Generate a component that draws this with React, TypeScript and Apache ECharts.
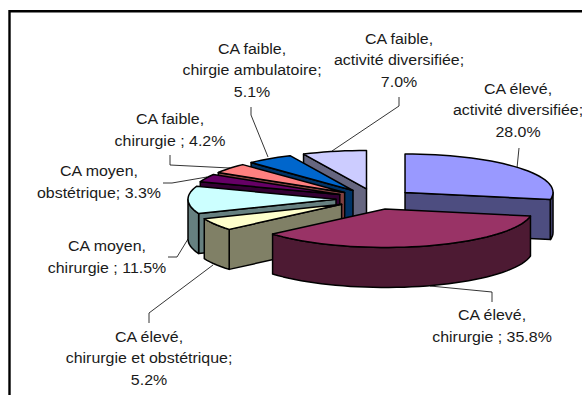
import React, { useEffect, useRef } from "react";
import * as echarts from "echarts";

const categories = [
  "CA élevé,\nactivité diversifiée;",
  "CA élevé,\nchirurgie ;",
  "CA élevé,\nchirurgie et obstétrique;",
  "CA moyen,\nchirurgie ;",
  "CA moyen,\nobstétrique;",
  "CA faible,\nchirurgie ;",
  "CA faible,\nchirgie ambulatoire;",
  "CA faible,\nactivité diversifiée;",
];
const shares = [28.0, 35.8, 5.2, 11.5, 3.3, 4.2, 5.1, 7.0];
const valueOnOwnLine = [true, false, true, false, false, false, true, true];
const topColors = ["#9999FF", "#993366", "#FFFFCC", "#CCFFFF", "#660066", "#FF8080", "#0066CC", "#CCCCFF"];
const sideColors = ["#4D4D80", "#4D1A33", "#808066", "#668080", "#330033", "#804040", "#003366", "#666680"];

// Layout of the drawing (not data)
const CX = 375, CY = 199, RX = 148, RY = 38.5, DEPTH = 40, EX = 39, EY = 10.3;
const labelCentres = [[518, 110], [492, 326], [149, 358], [107, 257], [99, 182], [170, 130], [252, 70], [399, 60]];
const leaders = [
  [[519, 148], [517, 168]],
  [[492, 302], [492, 292], [430, 286]],
  [[149, 323], [149, 313], [213, 265]],
  [[168, 257], [177, 257], [188, 239]],
  [[163, 183], [172, 183], [207, 177]],
  [[170, 155], [170, 165], [230, 168]],
  [[251, 107], [251, 115], [268, 157]],
  [[399, 97], [399, 106], [332, 151]],
];

const total = shares.reduce((a, b) => a + b, 0);
const rad = (d: number) => (d * Math.PI) / 180;

type Row = [number, number, number];
const rows: Row[] = [];
{
  let acc = 0;
  shares.forEach((v, i) => {
    rows.push([v, (acc / total) * 360, i]);
    acc += v;
  });
}
const apexOf = (mid: number) => [CX + EX * Math.sin(rad(mid)), CY - EY * Math.cos(rad(mid))];
// painter's order: furthest apex first
const drawRows = [...rows].sort((a, b) => {
  const ma = a[1] + (a[0] / total) * 180;
  const mb = b[1] + (b[0] / total) * 180;
  return apexOf(ma)[1] - apexOf(mb)[1];
});

function renderSlice(_: any, api: any) {
  const v = api.value(0), a1 = api.value(1), idx = api.value(2);
  const a2 = a1 + (v / total) * 360;
  const [ax, ay] = apexOf((a1 + a2) / 2);
  const pt = (a: number, dy = 0) => [ax + RX * Math.sin(rad(a)), ay - RY * Math.cos(rad(a)) + dy];
  const arc = (from: number, to: number, dy = 0) => {
    const n = Math.max(2, Math.ceil((to - from) / 3));
    const out: number[][] = [];
    for (let i = 0; i <= n; i++) out.push(pt(from + ((to - from) * i) / n, dy));
    return out;
  };
  const line = { stroke: "#000", lineWidth: 1.5, lineJoin: "round" };
  const side = { ...line, fill: sideColors[idx] };
  const children: any[] = [];
  const face = (a: number) => {
    const p = pt(a), q = pt(a, DEPTH);
    children.push({ type: "polygon", shape: { points: [[ax, ay], p, q, [ax, ay + DEPTH]] }, style: side });
  };
  if (Math.sin(rad(a1)) < 0) face(a1);
  if (Math.sin(rad(a2)) > 0) face(a2);
  const w1 = Math.max(a1, 90), w2 = Math.min(a2, 270);
  if (w2 > w1) {
    children.push({
      type: "polygon",
      shape: { points: [...arc(w1, w2), ...arc(w1, w2, DEPTH).reverse()] },
      style: side,
    });
  }
  children.push({
    type: "polygon",
    shape: { points: [[ax, ay], ...arc(a1, a2)] },
    style: { ...line, fill: topColors[idx] },
  });
  return { type: "group", children };
}

const labelText = (i: number) =>
  `${categories[i]}${valueOnOwnLine[i] ? "\n" : " "}${shares[i].toFixed(1)}%`;

export default function App() {
  const ref = useRef<HTMLDivElement>(null);
  useEffect(() => {
    document.body.style.margin = "0";
    const chart = echarts.init(ref.current!, undefined, { renderer: "svg" });
    chart.setOption({
      animation: false,
      backgroundColor: "#fff",
      graphic: [
        {
          type: "polyline",
          z: 1,
          shape: { points: [[9.5, 395], [9.5, 11.2], [582, 11.2]] },
          style: { stroke: "#000", lineWidth: 2.4, fill: "none" },
        },
        ...leaders.map((points) => ({
          type: "polyline",
          z: 1,
          shape: { points },
          style: { stroke: "#000", lineWidth: 0.8, fill: "none" },
        })),
        ...labelCentres.map(([x, y], i) => ({
          type: "text",
          z: 3,
          x,
          y,
          scaleX: 1.1,
          style: {
            text: labelText(i),
            align: "center",
            verticalAlign: "middle",
            fontFamily: "Liberation Sans",
            fontSize: 14.5,
            lineHeight: 21.5,
            fill: "#1a1a1a",
          },
        })),
      ],
      series: [
        {
          type: "custom",
          coordinateSystem: "none",
          silent: true,
          z: 2,
          data: drawRows,
          renderItem: renderSlice,
        },
      ],
    });
    return () => chart.dispose();
  }, []);
  return <div ref={ref} style={{ width: 582, height: 395 }} />;
}
